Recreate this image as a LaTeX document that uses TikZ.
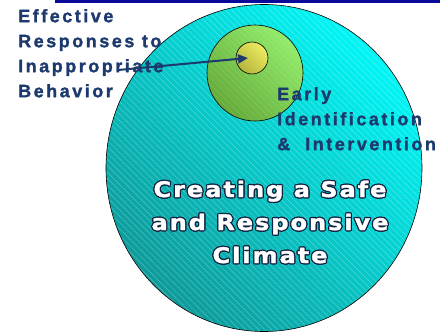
\documentclass[tikz,border=0pt]{standalone}
\usepackage{fontspec}
\usetikzlibrary{positioning,arrows.meta,patterns.meta}
\newfontfamily\labfont[LetterSpace=14, FakeBold=1.4]{Liberation Sans Bold}
\newfontfamily\climfont[LetterSpace=9, FakeBold=1.6, FakeStretch=1.12]{DejaVu Sans Bold}
\definecolor{navy}{HTML}{1C3A6E}
\definecolor{barblue}{HTML}{0A0A9A}
\definecolor{cyanhi}{HTML}{00F6F6}
\definecolor{cyanlo}{HTML}{0E9A9A}
\definecolor{greenhi}{HTML}{92EC6A}
\definecolor{greenlo}{HTML}{64AA38}
\definecolor{yellowhi}{HTML}{ECEC62}
\definecolor{yellowlo}{HTML}{B4B43C}

\tikzset{
  ring/.style={draw=black, line width=0.6pt},
  hatch/.style={pattern={Lines[angle=-45,distance=4.5pt,line width=0.5pt]}, pattern color=white, opacity=.3},
  lab/.style={font=\labfont\fontsize{18}{25}\selectfont, text=navy, align=left, inner sep=0pt, anchor=north west},
  clim/.style={font=\climfont\fontsize{21.5}{33}\selectfont, align=center, inner sep=0pt}
}

\begin{document}
\begin{tikzpicture}[x=1pt, y=-1pt, >={Triangle[length=10pt,width=9pt]}]
\useasboundingbox (0,0) rectangle (440,332);
\fill[barblue] (55,0) rectangle (440,2.5);

\shade[top color=cyanhi, bottom color=cyanlo, shading angle=-45] (264,168) ellipse [x radius=158pt, y radius=163.5pt];
\fill[hatch] (264,168) ellipse [x radius=158pt, y radius=163.5pt];
\draw[ring] (264,168) ellipse [x radius=158pt, y radius=163.5pt];

\shade[top color=greenhi, bottom color=greenlo, shading angle=-45] (255,73) circle [radius=48pt];
\fill[hatch, opacity=.15] (255,73) circle [radius=48pt];
\draw[ring] (255,73) circle [radius=48pt];

\coordinate (dot) at (252,58);
\shade[top color=yellowhi, bottom color=yellowlo, shading angle=-45] (dot) circle [radius=16pt];
\draw[ring] (dot) circle [radius=16pt];

\node[lab] (resp) at (18,9) {Effective\\Responses to\\Inappropriate\\Behavior};
\node[lab] (early) at (277,87) {Early\\Identification\\\&\ \ Intervention};

\foreach \a in {0,30,...,330}
  \node[clim, text=navy!60!black, shift={(\a:1.2pt)}] (halo\a) at (270,222) {Creating a Safe\\and Responsive\\Climate};
\node[clim, text=white] (climate) at (270,222) {Creating a Safe\\and Responsive\\Climate};

\coordinate (tail) at (118,70);
\draw[->, navy, line width=2pt] (tail) -- ([xshift=-4pt]dot);
\end{tikzpicture}
\end{document}
